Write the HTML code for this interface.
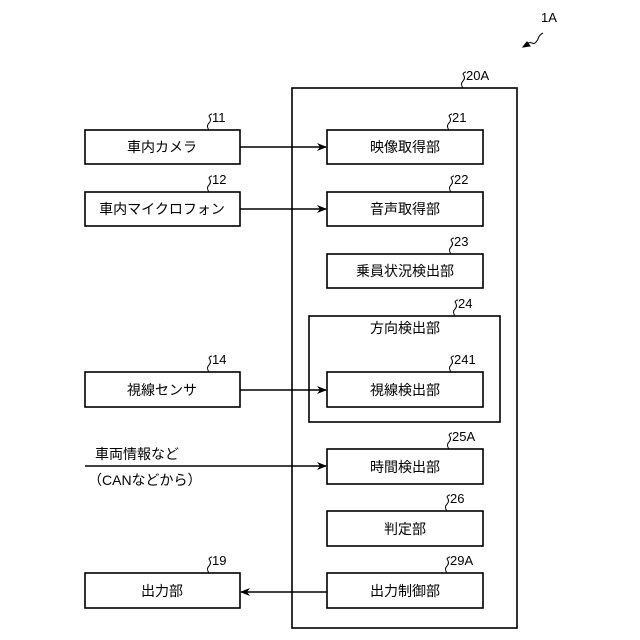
<!DOCTYPE html>
<html><head><meta charset="utf-8"><style>
html,body{margin:0;padding:0;background:#fff}
svg{display:block}
text{font-family:"Liberation Sans","Noto Sans CJK JP",sans-serif;fill:#000}
.b{font-size:14px}
.n{font-size:13px}
</style></head><body>
<svg width="640" height="640" viewBox="0 0 640 640" xmlns="http://www.w3.org/2000/svg">
<defs><marker id="a" markerWidth="10" markerHeight="8" refX="9" refY="4" orient="auto" markerUnits="userSpaceOnUse"><path d="M0,0 L10,4 L0,8 L3,4 Z" fill="#000"/></marker></defs>
<g fill="none" stroke="#000" stroke-width="1.6">
<rect x="292" y="88" width="225" height="540"/>
<rect x="85" y="130" width="155" height="34"/>
<rect x="85" y="192" width="155" height="34"/>
<rect x="85" y="372" width="155" height="35"/>
<rect x="85" y="573" width="155" height="35"/>
<rect x="327" y="130" width="156" height="34"/>
<rect x="327" y="192" width="156" height="34"/>
<rect x="327" y="254" width="156" height="34"/>
<rect x="309" y="316" width="191" height="106"/>
<rect x="327" y="372" width="156" height="35"/>
<rect x="327" y="449" width="156" height="35"/>
<rect x="327" y="511" width="156" height="35"/>
<rect x="327" y="573" width="156" height="35"/>
<line x1="240" y1="147" x2="326" y2="147" marker-end="url(#a)"/>
<line x1="240" y1="209" x2="326" y2="209" marker-end="url(#a)"/>
<line x1="240" y1="390" x2="326" y2="390" marker-end="url(#a)"/>
<line x1="85" y1="466" x2="326" y2="466" marker-end="url(#a)"/>
<line x1="327" y1="592" x2="241" y2="592" marker-end="url(#a)"/>
</g>
<g fill="none" stroke="#000" stroke-width="1">
<path d="M209,130 q-3,-4 0,-7 q3,-3 0,-7 q1,-2 3,-2"/>
<path d="M209,192 q-3,-4 0,-7 q3,-3 0,-7 q1,-2 3,-2"/>
<path d="M209,372 q-3,-4 0,-7 q3,-3 0,-7 q1,-2 3,-2"/>
<path d="M209,573 q-3,-4 0,-7 q3,-3 0,-7 q1,-2 3,-2"/>
<path d="M449,130 q-3,-4 0,-7 q3,-3 0,-7 q1,-2 3,-2"/>
<path d="M451,192 q-3,-4 0,-7 q3,-3 0,-7 q1,-2 3,-2"/>
<path d="M451,254 q-3,-4 0,-7 q3,-3 0,-7 q1,-2 3,-2"/>
<path d="M455,316 q-3,-4 0,-7 q3,-3 0,-7 q1,-2 3,-2"/>
<path d="M451,372 q-3,-4 0,-7 q3,-3 0,-7 q1,-2 3,-2"/>
<path d="M449,449 q-3,-4 0,-7 q3,-3 0,-7 q1,-2 3,-2"/>
<path d="M447,511 q-3,-4 0,-7 q3,-3 0,-7 q1,-2 3,-2"/>
<path d="M447,573 q-3,-4 0,-7 q3,-3 0,-7 q1,-2 3,-2"/>
<path d="M463,88 q-3,-4 0,-7 q3,-3 0,-7 q1,-2 3,-2"/>
<path d="M525,44 q4,-2 7,-1 q3,2 6,-4 q1,-4 5,-6" />
<path d="M523,47 l7,-1 l-3,-4 Z" fill="#000"/>
</g>
<g class="n">
<text x="212" y="122">11</text><text x="212" y="184">12</text><text x="212" y="364">14</text><text x="212" y="565">19</text>
<text x="452" y="122">21</text><text x="454" y="184">22</text><text x="454" y="246">23</text><text x="458" y="308">24</text>
<text x="454" y="364">241</text><text x="452" y="441">25A</text><text x="450" y="503">26</text><text x="450" y="565">29A</text>
<text x="466" y="80">20A</text><text x="541" y="22">1A</text>
</g>
<g class="b" text-anchor="middle">
<text x="162" y="152">車内カメラ</text>
<text x="162" y="214">車内マイクロフォン</text>
<text x="162" y="395">視線センサ</text>
<text x="162" y="596">出力部</text>
<text x="405" y="152">映像取得部</text>
<text x="405" y="214">音声取得部</text>
<text x="405" y="276">乗員状況検出部</text>
<text x="405" y="333">方向検出部</text>
<text x="405" y="395">視線検出部</text>
<text x="405" y="472">時間検出部</text>
<text x="405" y="534">判定部</text>
<text x="405" y="596">出力制御部</text>
</g>
<text class="b" x="95" y="459">車両情報など</text>
<text class="b" x="88" y="485">（CANなどから）</text>
</svg>
</body></html>
